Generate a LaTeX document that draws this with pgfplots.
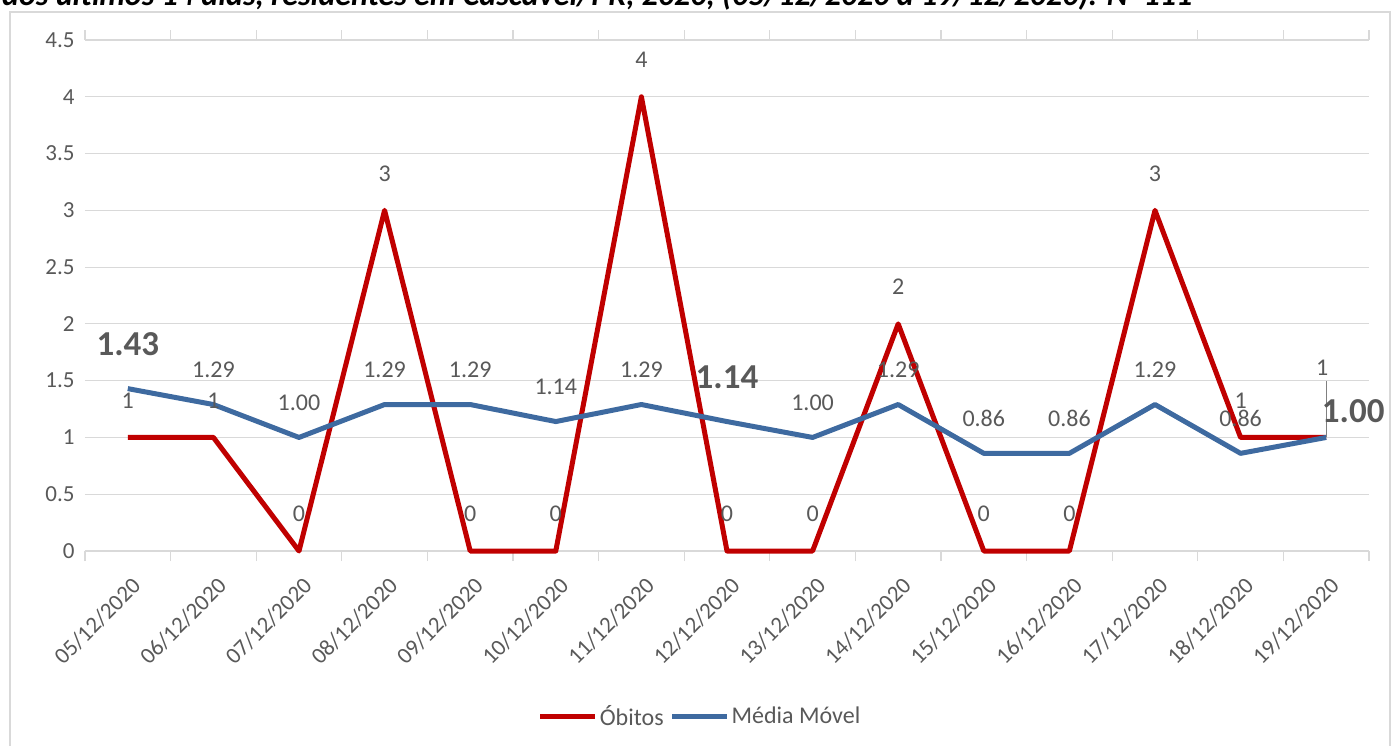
\documentclass[border=0pt]{standalone}
\usepackage{pgfplots}
\pgfplotsset{compat=1.18}
\usepackage{fontspec}
\setmainfont{Carlito}

\definecolor{obred}{RGB}{192,0,0}
\definecolor{mmblue}{RGB}{62,106,160}
\definecolor{gridgray}{RGB}{217,217,217}
\definecolor{txtgray}{RGB}{89,89,89}

\pgfplotstableread{
x obitos media
0  1 1.43
1  1 1.29
2  0 1.00
3  3 1.29
4  0 1.29
5  0 1.14
6  4 1.29
7  0 1.14
8  0 1.00
9  2 1.29
10 0 0.86
11 0 0.86
12 3 1.29
13 1 0.86
14 1 1.00
}\dados

\begin{document}
\begin{tikzpicture}
\path[use as bounding box] (-85pt,-194pt) rectangle (1309pt,551pt);
% moldura e titulo cortado
\begin{scope}
\clip (-85pt,-194pt) rectangle (1309pt,551pt);
\draw[gridgray, line width=1.2pt] (-75pt,-210pt) rectangle (1305pt,539pt);
\node[anchor=base west, inner sep=0pt, font=\fontsize{32}{36}\selectfont\bfseries\itshape]
  at (-83pt,545pt) {dos últimos 14 dias, residentes em Cascavel/PR, 2020, (05/12/2020 a 19/12/2020). N=111};
\end{scope}

\begin{axis}[
  at={(0pt,0pt)}, anchor=south west,
  scale only axis, width=1284pt, height=511pt,
  xmin=-0.5, xmax=14.5, ymin=0, ymax=4.5,
  xtick={0,...,14},
  xticklabels={05/12/2020,06/12/2020,07/12/2020,08/12/2020,09/12/2020,10/12/2020,11/12/2020,12/12/2020,13/12/2020,14/12/2020,15/12/2020,16/12/2020,17/12/2020,18/12/2020,19/12/2020},
  minor xtick={-0.5,0.5,...,14.5},
  ytick={0,0.5,...,4.5},
  ymajorgrids, grid style={gridgray, line width=1.2pt},
  axis line style={draw=none},
  major tick length=0pt, minor tick length=10pt, tick align=outside,
  minor tick style={gridgray, line width=1.2pt},
  tick label style={font=\fontsize{23}{27}\selectfont, text=txtgray},
  /pgf/number format/assume math mode=true,
  yticklabel style={xshift=-7pt},
  xticklabel style={inner sep=0pt, xshift=9pt, yshift=-31pt, anchor=east, rotate=45},
  legend style={at={(0.479,-0.323)}, anchor=center, draw=none, fill=none,
    legend columns=-1, font=\fontsize{24}{28}\selectfont, text=txtgray,
    /tikz/every even column/.append style={column sep=4pt}},
  legend image code/.code={\draw[#1, line width=5pt] (0pt,0pt) -- (55pt,0pt);},
  clip=false,
  every node near coord/.append style={font=\fontsize{24}{28}\selectfont, text=txtgray, anchor=center},
]
\addplot[obred, line width=5pt, line join=round] table[x=x, y=obitos] {\dados};
\addlegendentry{Óbitos}
\addplot[mmblue, line width=5pt, line join=round] table[x=x, y=media] {\dados};
\addlegendentry{Média Móvel}

% rotulos Óbitos
\addplot[draw=none, forget plot, nodes near coords, point meta=explicit symbolic,
  every node near coord/.append style={yshift=37pt}]
  coordinates {(0,1)[1] (1,1)[1] (2,0)[0] (3,3)[3] (4,0)[0] (5,0)[0] (6,4)[4] (7,0)[0]
   (8,0)[0] (9,2)[2] (10,0)[0] (11,0)[0] (12,3)[3] (13,1)[1]};
\addplot[gray, line width=0.6pt, forget plot] coordinates {(14,1) (14,1.5)};
\addplot[draw=none, forget plot, nodes near coords, point meta=explicit symbolic,
  every node near coord/.append style={yshift=70pt, xshift=-4pt}]
  coordinates {(14,1)[1]};

% rotulos Média Móvel
\addplot[draw=none, forget plot, nodes near coords, point meta=explicit symbolic,
  every node near coord/.append style={yshift=35pt}]
  coordinates {(1,1.29)[1.29] (2,1.00)[1.00] (3,1.29)[1.29] (4,1.29)[1.29] (5,1.14)[1.14]
   (6,1.29)[1.29] (8,1.00)[1.00] (9,1.29)[1.29] (10,0.86)[0.86] (11,0.86)[0.86]
   (12,1.29)[1.29] (13,0.86)[0.86]};
\addplot[draw=none, forget plot, nodes near coords, point meta=explicit symbolic,
  every node near coord/.append style={font=\fontsize{35}{40}\selectfont\bfseries, yshift=44pt}]
  coordinates {(0,1.43)[1.43] (7,1.14)[1.14]};
\addplot[draw=none, forget plot, nodes near coords, point meta=explicit symbolic,
  every node near coord/.append style={font=\fontsize{35}{40}\selectfont\bfseries, xshift=27pt, yshift=26pt}]
  coordinates {(14,1.00)[1.00]};
\end{axis}
\end{tikzpicture}
\end{document}
